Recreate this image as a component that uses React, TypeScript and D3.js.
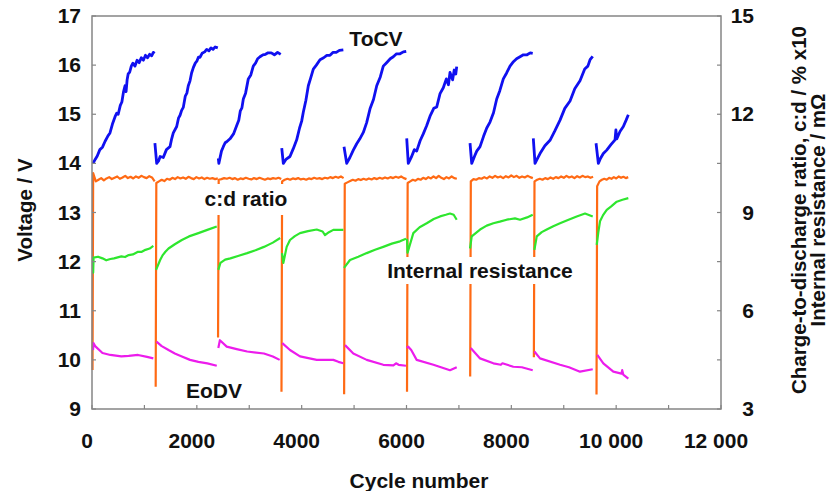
import React from "react";
import * as d3 from "d3";

type Pt = [number, number];

// ---------- axes ----------
const xTicks = [0, 2000, 4000, 6000, 8000, 10000, 12000];
const xTickLabels = ["0", "2000", "4000", "6000", "8000", "10 000", "12 000"];
const xMinorTicks = [1000, 3000, 5000, 7000, 9000, 11000];
const leftTicks = [9, 10, 11, 12, 13, 14, 15, 16, 17];
const rightTicks = [3, 6, 9, 12, 15];
const rightMinorTicks = [4.5, 7.5, 10.5, 13.5];

// ---------- ToCV (V, left axis) ----------
const tocv1: Pt[] = [[20,14.0],[60,14.08],[100,14.15],[150,14.28],[200,14.33],[250,14.45],[300,14.55],[343,14.62],[390,14.8],[440,14.95],[470,15.02],[500,15.0],[540,15.18],[570,15.25],[600,15.45],[630,15.58],[650,15.46],[670,15.7],[690,15.82],[720,15.86],[750,15.98],[780,16.04],[820,15.98],[860,16.1],[900,16.05],[940,16.15],[980,16.1],[1020,16.2],[1060,16.15],[1100,16.22],[1140,16.19],[1170,16.26],[1195,16.24]];
const tocv2: Pt[] = [[1200,14.41],[1234,14.0],[1270,14.05],[1300,14.14],[1360,14.12],[1420,14.28],[1488,14.34],[1520,14.5],[1551,14.62],[1616,14.75],[1650,14.92],[1680,14.98],[1710,15.08],[1742,15.14],[1780,15.37],[1810,15.43],[1837,15.58],[1870,15.68],[1900,15.84],[1933,15.95],[1970,16.04],[2000,16.08],[2030,16.16],[2060,16.16],[2100,16.24],[2150,16.27],[2188,16.32],[2230,16.29],[2270,16.35],[2310,16.32],[2350,16.37],[2400,16.35]];
const tocv3: Pt[] = [[2410,14.1],[2420,14.0],[2470,14.25],[2505,14.34],[2540,14.42],[2570,14.44],[2633,14.5],[2700,14.6],[2761,14.77],[2800,14.88],[2830,15.07],[2860,15.13],[2887,15.31],[2930,15.43],[2982,15.72],[3030,15.8],[3077,15.98],[3120,16.04],[3160,16.13],[3205,16.17],[3260,16.21],[3310,16.22],[3360,16.25],[3420,16.25],[3480,16.21],[3540,16.26],[3600,16.22]];
const tocv4: Pt[] = [[3620,14.31],[3650,14.0],[3700,14.08],[3777,14.14],[3840,14.3],[3905,14.48],[3960,14.72],[4000,14.86],[4031,15.04],[4080,15.28],[4127,15.58],[4170,15.73],[4222,15.92],[4280,16.0],[4350,16.11],[4420,16.15],[4480,16.2],[4541,16.2],[4600,16.26],[4660,16.26],[4720,16.3],[4795,16.31]];
const tocv5: Pt[] = [[4808,14.34],[4859,14.0],[4920,14.12],[4985,14.27],[5050,14.4],[5110,14.5],[5176,14.63],[5240,14.83],[5304,15.11],[5370,15.3],[5432,15.58],[5500,15.76],[5557,15.98],[5620,16.05],[5690,16.13],[5748,16.17],[5810,16.23],[5876,16.23],[5940,16.27],[5995,16.28]];
const tocv6: Pt[] = [[6004,14.51],[6034,14.0],[6090,14.12],[6150,14.28],[6194,14.25],[6260,14.46],[6320,14.6],[6386,14.77],[6449,14.96],[6520,15.12],[6577,15.15],[6640,15.42],[6702,15.54],[6760,15.72],[6800,15.6],[6830,15.85],[6880,15.7],[6910,15.9],[6940,15.82],[6958,15.97]];
const tocv7: Pt[] = [[7212,14.41],[7244,14.0],[7300,14.15],[7340,14.25],[7403,14.34],[7470,14.55],[7531,14.72],[7593,14.84],[7660,15.03],[7721,15.31],[7780,15.48],[7847,15.72],[7910,15.84],[7975,15.98],[8040,16.07],[8100,16.13],[8166,16.17],[8230,16.21],[8300,16.21],[8360,16.25],[8408,16.24]];
const tocv8: Pt[] = [[8419,14.51],[8452,14.0],[8500,14.1],[8547,14.2],[8640,14.36],[8738,14.47],[8830,14.66],[8929,14.88],[9020,15.12],[9120,15.27],[9210,15.52],[9310,15.68],[9400,15.92],[9460,15.98],[9502,16.11],[9553,16.18]];
const tocv9: Pt[] = [[9616,14.41],[9660,14.0],[9700,14.1],[9755,14.2],[9820,14.27],[9900,14.38],[9978,14.48],[9995,14.68],[10011,14.5],[10073,14.65],[10137,14.75],[10190,14.88],[10232,14.99]];
const tocvSegments: Pt[][] = [tocv1, tocv2, tocv3, tocv4, tocv5, tocv6, tocv7, tocv8, tocv9];

// ---------- Internal resistance (mOhm, right axis) ----------
const ir1: Pt[] = [[19,7.65],[22,7.16],[30,7.62],[115,7.65],[200,7.6],[272,7.54],[350,7.58],[420,7.6],[490,7.63],[560,7.66],[630,7.64],[700,7.7],[780,7.72],[878,7.8],[950,7.8],[1020,7.86],[1100,7.9],[1170,7.98]];
const ir2: Pt[] = [[1222,7.25],[1300,7.55],[1350,7.7],[1400,7.8],[1460,7.9],[1580,8.03],[1714,8.16],[1850,8.27],[2030,8.37],[2200,8.47],[2380,8.57]];
const ir3: Pt[] = [[2410,7.25],[2450,7.46],[2540,7.56],[2640,7.6],[2800,7.68],[2960,7.76],[3120,7.85],[3280,7.95],[3450,8.08],[3590,8.22]];
const ir4: Pt[] = [[3625,7.76],[3650,7.46],[3714,7.95],[3777,8.16],[3870,8.28],[3968,8.37],[4120,8.43],[4287,8.48],[4400,8.42],[4445,8.31],[4520,8.4],[4604,8.47],[4795,8.47]];
const ir5: Pt[] = [[4808,7.31],[4922,7.55],[5080,7.65],[5241,7.76],[5400,7.86],[5557,7.95],[5720,8.05],[5876,8.12],[5991,8.2]];
const ir6: Pt[] = [[6010,8.2],[6020,7.77],[6130,8.37],[6250,8.55],[6386,8.67],[6520,8.8],[6640,8.88],[6750,8.93],[6830,8.97],[6900,8.93],[6958,8.78]];
const ir7: Pt[] = [[7212,7.9],[7244,8.27],[7403,8.48],[7530,8.6],[7657,8.67],[7780,8.72],[7912,8.78],[8070,8.82],[8166,8.78],[8300,8.85],[8408,8.93]];
const ir8: Pt[] = [[8440,7.86],[8485,8.27],[8580,8.4],[8675,8.48],[8800,8.58],[8929,8.67],[9080,8.77],[9247,8.88],[9406,8.97],[9553,8.88]];
const ir9: Pt[] = [[9629,8.01],[9660,8.4],[9692,8.73],[9750,8.92],[9820,9.08],[9900,9.18],[10011,9.33],[10120,9.39],[10232,9.44]];
const resistanceSegments: Pt[][] = [ir1, ir2, ir3, ir4, ir5, ir6, ir7, ir8, ir9];

// ---------- EoDV (V, left axis) ----------
const eodv1: Pt[] = [[19,10.2],[30,10.34],[60,10.28],[200,10.14],[350,10.1],[560,10.07],[700,10.08],[878,10.1],[1050,10.06],[1170,10.03]];
const eodv2: Pt[] = [[1230,10.37],[1330,10.28],[1460,10.2],[1580,10.13],[1714,10.07],[1870,10.0],[2030,9.96],[2200,9.93],[2380,9.88]];
const eodv3: Pt[] = [[2410,10.24],[2440,10.4],[2570,10.27],[2760,10.22],[2960,10.17],[3280,10.13],[3450,10.07],[3580,10.0]];
const eodv4: Pt[] = [[3630,10.34],[3777,10.2],[3968,10.07],[4287,10.0],[4604,10.0],[4700,9.96],[4795,9.93]];
const eodv5: Pt[] = [[4827,10.3],[4985,10.13],[5241,10.0],[5557,9.9],[5750,9.89],[5800,9.93],[5850,9.9],[5991,9.88]];
const eodv6: Pt[] = [[6010,10.24],[6030,10.27],[6090,10.2],[6194,10.0],[6513,9.9],[6830,9.79],[6958,9.85]];
const eodv7: Pt[] = [[7225,10.24],[7403,10.03],[7657,9.93],[7800,9.9],[7830,9.93],[8038,9.86],[8200,9.85],[8408,9.79]];
const eodv8: Pt[] = [[8440,10.17],[8547,10.03],[8929,9.9],[9100,9.85],[9310,9.76],[9553,9.81]];
const eodv9: Pt[] = [[9640,10.1],[9755,9.93],[9946,9.76],[10100,9.72],[10115,9.79],[10135,9.7],[10232,9.62]];
const eodvSegments: Pt[][] = [eodv1, eodv2, eodv3, eodv4, eodv5, eodv6, eodv7, eodv8, eodv9];

// ---------- charge-to-discharge ratio (c:d % x10, right axis) ----------
const cdSpikeCycles = [10, 1215, 2405, 3615, 4810, 6010, 7215, 8430, 9625];
const cdSpikeLows = [4.19, 3.68, 5.18, 3.53, 3.45, 3.53, 3.99, 4.58, 3.44];
const cdSegmentEnds = [1195, 2400, 3610, 4800, 6000, 6960, 8410, 9560, 10230];
const cdBaselines: number[][] = [
  [10.2, 9.95, 10.0, 10.05, 9.98, 10.04, 10.08, 10.02, 10.06, 10.1, 10.03, 10.07, 10.12, 10.05, 10.09, 10.04, 10.1, 10.06, 10.12, 10.08, 10.05, 10.11, 10.07, 9.95],
  [9.9, 9.95, 10.0, 9.96, 10.03, 10.0, 10.06, 10.02, 10.08, 10.04, 10.07, 10.03, 10.09, 10.05, 10.02, 10.08, 10.04, 10.07, 10.02, 10.06, 10.03, 10.05, 10.02, 10.04],
  [10.0, 10.02, 10.05, 10.03, 10.06, 10.02, 10.05, 10.0, 10.04, 10.02, 10.06, 10.03, 10.01, 10.05, 10.02, 10.06, 10.03, 10.0, 10.04, 10.02, 10.05, 10.03, 10.06, 10.02],
  [9.95, 10.0, 10.03, 10.0, 10.04, 10.02, 10.05, 10.01, 10.03, 10.0, 10.04, 10.02, 10.06, 10.03, 10.05, 10.02, 10.06, 10.04, 10.08, 10.05, 10.09, 10.06, 10.1, 10.05],
  [9.88, 9.92, 9.96, 10.0, 9.97, 10.02, 9.99, 10.03, 10.0, 10.04, 10.01, 10.05, 10.02, 10.06, 10.03, 10.07, 10.04, 10.08, 10.05, 10.09, 10.06, 10.1, 10.05, 10.02],
  [9.9, 9.95, 10.0, 9.97, 10.03, 10.0, 10.06, 10.02, 10.08, 10.04, 10.1, 10.05, 10.12, 10.06, 10.02, 10.08, 10.04, 10.1, 10.05, 10.03],
  [9.95, 10.02, 10.0, 10.05, 10.03, 10.08, 10.04, 10.1, 10.06, 10.12, 10.07, 10.1, 10.05, 10.11, 10.07, 10.13, 10.08, 10.12, 10.06, 10.1, 10.07, 10.12, 10.08, 10.05],
  [9.95, 10.0, 10.03, 10.0, 10.05, 10.02, 10.07, 10.03, 10.08, 10.05, 10.1, 10.06, 10.12, 10.07, 10.1, 10.05, 10.11, 10.07, 10.12, 10.08, 10.1, 10.06, 10.09],
  [9.8, 9.95, 10.0, 10.03, 10.0, 10.06, 10.03, 10.08, 10.04, 10.1, 10.06, 10.09, 10.05, 10.08],
];

// ---------- layout ----------
const W = 829, H = 491;
const L = 92, R = 721, T = 16, B = 409;
const FONT = "'Liberation Sans', Arial, Helvetica, sans-serif";

const COL_BLUE = "#1010f0";
const COL_ORANGE = "#ff6a14";
const COL_GREEN = "#2ee62e";
const COL_MAGENTA = "#ec1cec";
const COL_AXIS = "#858585";

export default function App() {
  const x = d3.scaleLinear().domain([0, 12000]).range([L, R]);
  const yL = d3.scaleLinear().domain([9, 17]).range([B, T]);
  const yR = d3.scaleLinear().domain([3, 15]).range([B, T]);

  const lineL = d3.line<Pt>().x((d) => x(d[0])).y((d) => yL(d[1]));
  const lineR = d3.line<Pt>().x((d) => x(d[0])).y((d) => yR(d[1]));

  const cdSegments: Pt[][] = cdSpikeCycles.map((s, i) => {
    const vals = cdBaselines[i];
    const start = s + 12;
    const end = cdSegmentEnds[i];
    const pts: Pt[] = [[s, cdSpikeLows[i]]];
    vals.forEach((v, j) => {
      pts.push([start + ((end - start) * j) / (vals.length - 1), v]);
    });
    return pts;
  });

  const boldText = { fontFamily: FONT, fontWeight: 700, fill: "#111" } as const;

  return (
    <div style={{ position: "fixed", left: 0, top: 0 }}>
      <svg width={W} height={H} viewBox={`0 0 ${W} ${H}`} style={{ display: "block", background: "#fff" }}>
        <rect x={0} y={0} width={W} height={H} fill="#fff" />

        {/* c:d ratio */}
        {cdSegments.map((seg, i) => (
          <path key={"cd" + i} d={lineR(seg) || ""} fill="none" stroke={COL_ORANGE} strokeWidth={2.2} strokeLinejoin="round" />
        ))}
        {/* internal resistance */}
        {resistanceSegments.map((seg, i) => (
          <path key={"ir" + i} d={lineR(seg) || ""} fill="none" stroke={COL_GREEN} strokeWidth={2.2} strokeLinejoin="round" />
        ))}
        {/* EoDV */}
        {eodvSegments.map((seg, i) => (
          <path key={"eo" + i} d={lineL(seg) || ""} fill="none" stroke={COL_MAGENTA} strokeWidth={2.2} strokeLinejoin="round" />
        ))}
        {/* ToCV */}
        {tocvSegments.map((seg, i) => (
          <path key={"to" + i} d={lineL(seg) || ""} fill="none" stroke={COL_BLUE} strokeWidth={2.8} strokeLinejoin="round" />
        ))}

        {/* in-plot labels with white boxes */}
        <text x={376} y={46} textAnchor="middle" fontSize={21} {...boldText}>ToCV</text>
        <rect x={203} y={184} width={88} height={31} fill="#fff" />
        <text x={246} y={206} textAnchor="middle" fontSize={21} {...boldText}>c:d ratio</text>
        <rect x={381} y={257} width={198} height={27} fill="#fff" />
        <text x={480} y={278} textAnchor="middle" fontSize={21} {...boldText}>Internal resistance</text>
        <text x={214} y={398} textAnchor="middle" fontSize={21} {...boldText}>EoDV</text>

        {/* frame */}
        <rect x={L} y={T} width={R - L} height={B - T} fill="none" stroke={COL_AXIS} strokeWidth={1.5} />

        {/* left ticks */}
        {leftTicks.map((t) => (
          <g key={"lt" + t}>
            <line x1={L} x2={L + 4} y1={yL(t)} y2={yL(t)} stroke={COL_AXIS} strokeWidth={1.2} />
            <text x={81} y={yL(t) + 7} textAnchor="end" fontSize={21} {...boldText}>{t}</text>
          </g>
        ))}
        {/* right ticks */}
        {[...rightTicks, ...rightMinorTicks].map((t) => (
          <line key={"rt" + t} x1={R - 4} x2={R} y1={yR(t)} y2={yR(t)} stroke={COL_AXIS} strokeWidth={1.2} />
        ))}
        {rightTicks.map((t) => (
          <text key={"rl" + t} x={754} y={yR(t) + 7} textAnchor="end" fontSize={21} {...boldText}>{t}</text>
        ))}
        {/* bottom ticks */}
        {[...xTicks, ...xMinorTicks].map((t) => (
          <line key={"bt" + t} x1={x(t)} x2={x(t)} y1={B} y2={B - 4} stroke={COL_AXIS} strokeWidth={1.2} />
        ))}
        {xTicks.map((t, i) => (
          <text key={"bl" + t} x={x(t) - 5} y={448} textAnchor="middle" fontSize={21} {...boldText}>{xTickLabels[i]}</text>
        ))}

        {/* axis titles */}
        <text x={419} y={488} textAnchor="middle" fontSize={21} {...boldText}>Cycle number</text>
        <text transform={`translate(32, 210) rotate(-90)`} textAnchor="middle" fontSize={20.5} {...boldText}>Voltage / V</text>
        <text transform={`translate(806, 210) rotate(-90)`} textAnchor="middle" fontSize={20.5} {...boldText}>Charge-to-discharge ratio, c:d / % x10</text>
        <text transform={`translate(825, 210) rotate(-90)`} textAnchor="middle" fontSize={20.5} {...boldText}>Internal resistance / mΩ</text>
      </svg>
    </div>
  );
}
